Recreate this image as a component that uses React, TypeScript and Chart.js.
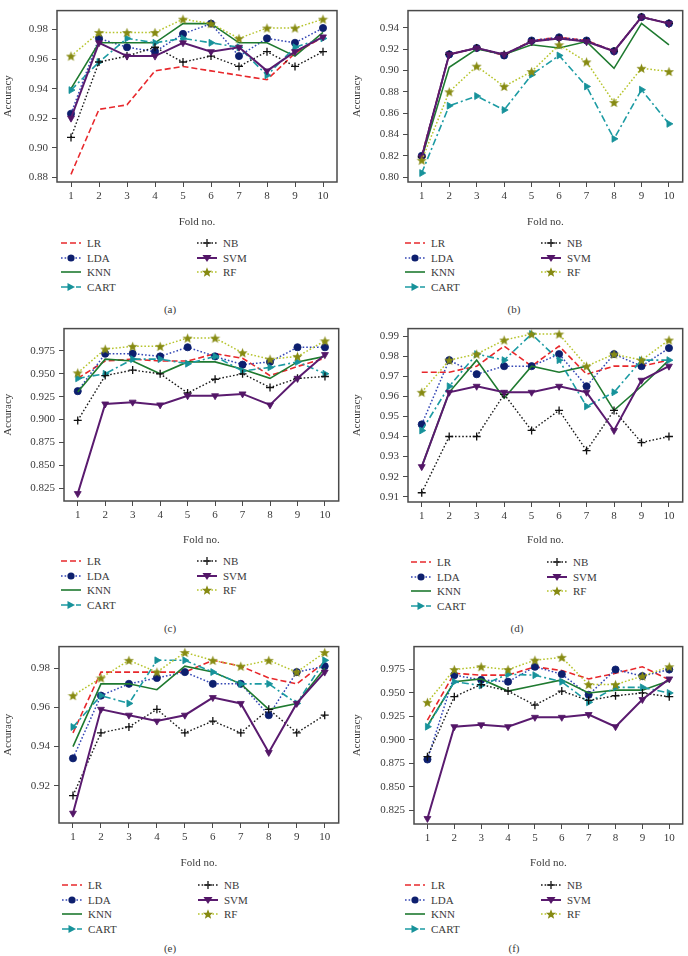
import React, { useEffect, useRef } from 'react';
import { Chart, registerables } from 'chart.js';

Chart.register(...registerables);

const FOLDS = ['1', '2', '3', '4', '5', '6', '7', '8', '9', '10'];
const NAMES = ['LR', 'LDA', 'KNN', 'CART', 'NB', 'SVM', 'RF'];

// (a)
const aLR = [0.882, 0.926, 0.929, 0.952, 0.955, 0.952, 0.949, 0.946, 0.964, 0.975];
const aLDA = [0.923, 0.974, 0.968, 0.965, 0.977, 0.984, 0.962, 0.974, 0.971, 0.981];
const aKNN = [0.94, 0.971, 0.971, 0.971, 0.984, 0.984, 0.971, 0.971, 0.962, 0.978];
const aCART = [0.939, 0.958, 0.974, 0.971, 0.974, 0.971, 0.968, 0.949, 0.968, 0.974];
const aNB = [0.907, 0.958, 0.962, 0.968, 0.958, 0.962, 0.955, 0.965, 0.955, 0.965];
const aSVM = [0.92, 0.971, 0.962, 0.962, 0.971, 0.965, 0.968, 0.952, 0.965, 0.975];
const aRF = [0.962, 0.978, 0.978, 0.978, 0.987, 0.984, 0.974, 0.981, 0.981, 0.987];

// (b)
const bLR = [0.82, 0.915, 0.921, 0.914, 0.928, 0.931, 0.928, 0.918, 0.95, 0.944];
const bLDA = [0.82, 0.915, 0.921, 0.914, 0.928, 0.931, 0.928, 0.918, 0.95, 0.944];
const bKNN = [0.818, 0.903, 0.92, 0.915, 0.924, 0.921, 0.927, 0.902, 0.944, 0.924];
const bCART = [0.804, 0.867, 0.876, 0.863, 0.896, 0.914, 0.885, 0.836, 0.882, 0.85];
const bNB = [0.819, 0.915, 0.921, 0.915, 0.927, 0.93, 0.927, 0.918, 0.95, 0.944];
const bSVM = [0.819, 0.915, 0.921, 0.915, 0.927, 0.93, 0.927, 0.918, 0.95, 0.944];
const bRF = [0.816, 0.88, 0.904, 0.885, 0.899, 0.924, 0.908, 0.87, 0.902, 0.899];

// (c)
const cLR = [0.945, 0.964, 0.966, 0.964, 0.964, 0.972, 0.967, 0.948, 0.958, 0.967];
const cLDA = [0.931, 0.972, 0.972, 0.969, 0.979, 0.969, 0.96, 0.963, 0.979, 0.979];
const cKNN = [0.93, 0.966, 0.964, 0.95, 0.963, 0.963, 0.955, 0.945, 0.963, 0.969];
const cCART = [0.945, 0.95, 0.966, 0.966, 0.961, 0.969, 0.953, 0.957, 0.963, 0.95];
const cNB = [0.899, 0.948, 0.954, 0.95, 0.929, 0.944, 0.95, 0.935, 0.945, 0.947];
const cSVM = [0.819, 0.917, 0.919, 0.916, 0.926, 0.926, 0.928, 0.916, 0.945, 0.971];
const cRF = [0.951, 0.977, 0.98, 0.98, 0.989, 0.989, 0.973, 0.966, 0.969, 0.986];

// (d)
const dLR = [0.972, 0.972, 0.975, 0.985, 0.975, 0.985, 0.971, 0.975, 0.975, 0.978];
const dLDA = [0.946, 0.978, 0.971, 0.975, 0.975, 0.981, 0.965, 0.981, 0.975, 0.984];
const dKNN = [0.925, 0.962, 0.978, 0.959, 0.975, 0.972, 0.975, 0.953, 0.965, 0.978];
const dCART = [0.943, 0.965, 0.981, 0.978, 0.991, 0.978, 0.955, 0.962, 0.978, 0.978];
const dNB = [0.912, 0.94, 0.94, 0.961, 0.943, 0.953, 0.933, 0.953, 0.937, 0.94];
const dSVM = [0.925, 0.962, 0.965, 0.962, 0.962, 0.965, 0.962, 0.943, 0.968, 0.975];
const dRF = [0.962, 0.978, 0.981, 0.988, 0.991, 0.991, 0.975, 0.981, 0.978, 0.988];

// (e)
const eLR = [0.947, 0.978, 0.978, 0.978, 0.978, 0.984, 0.981, 0.975, 0.972, 0.983];
const eLDA = [0.934, 0.966, 0.972, 0.975, 0.978, 0.972, 0.972, 0.956, 0.978, 0.981];
const eKNN = [0.94, 0.972, 0.972, 0.969, 0.981, 0.978, 0.972, 0.959, 0.962, 0.98];
const eCART = [0.95, 0.966, 0.962, 0.984, 0.984, 0.978, 0.972, 0.972, 0.962, 0.984];
const eNB = [0.915, 0.947, 0.95, 0.959, 0.947, 0.953, 0.947, 0.959, 0.947, 0.956];
const eSVM = [0.906, 0.959, 0.956, 0.953, 0.956, 0.965, 0.962, 0.937, 0.962, 0.978];
const eRF = [0.966, 0.975, 0.984, 0.978, 0.988, 0.984, 0.981, 0.984, 0.978, 0.988];

// (f)
const fLR = [0.921, 0.971, 0.969, 0.969, 0.978, 0.974, 0.965, 0.971, 0.978, 0.964];
const fLDA = [0.879, 0.969, 0.964, 0.962, 0.978, 0.97, 0.948, 0.975, 0.968, 0.975];
const fKNN = [0.915, 0.962, 0.965, 0.952, 0.958, 0.964, 0.95, 0.953, 0.953, 0.963];
const fCART = [0.914, 0.962, 0.958, 0.97, 0.969, 0.962, 0.94, 0.956, 0.956, 0.95];
const fNB = [0.882, 0.946, 0.959, 0.952, 0.937, 0.952, 0.942, 0.947, 0.95, 0.946];
const fSVM = [0.816, 0.914, 0.916, 0.914, 0.924, 0.924, 0.927, 0.914, 0.943, 0.965];
const fRF = [0.94, 0.975, 0.978, 0.975, 0.985, 0.988, 0.959, 0.959, 0.968, 0.978];

// y tick labels
const ticksA = [0.88, 0.9, 0.92, 0.94, 0.96, 0.98];
const ticksB = [0.8, 0.82, 0.84, 0.86, 0.88, 0.9, 0.92, 0.94];
const ticksC = [0.825, 0.85, 0.875, 0.9, 0.925, 0.95, 0.975];
const ticksD = [0.91, 0.92, 0.93, 0.94, 0.95, 0.96, 0.97, 0.98, 0.99];
const ticksE = [0.92, 0.94, 0.96, 0.98];
const ticksF = [0.825, 0.85, 0.875, 0.9, 0.925, 0.95, 0.975];

const FONT = "'Liberation Serif', 'DejaVu Serif', serif";
const TEXT = '#3a3a3a';
const AXIS = '#4a4a4a';

type Style = {
  color: string;
  dash: number[];
  width: number;
  marker: string;
  mColor: string;
  radius: number;
  rot: number;
};

const STYLES: Style[] = [
  { color: '#e8282c', dash: [6, 3], width: 1.6, marker: 'none', mColor: '#e8282c', radius: 0, rot: 0 },
  { color: '#3447b5', dash: [1.6, 2], width: 1.5, marker: 'circle', mColor: '#0d1f6e', radius: 3.6, rot: 0 },
  { color: '#1f7a30', dash: [], width: 1.6, marker: 'none', mColor: '#1f7a30', radius: 0, rot: 0 },
  { color: '#1c9ba3', dash: [7, 3, 2, 3], width: 1.6, marker: 'triangle', mColor: '#17929a', radius: 4, rot: 90 },
  { color: '#1a1a1a', dash: [1.6, 2], width: 1.4, marker: 'cross', mColor: '#111111', radius: 4, rot: 0 },
  { color: '#5a1b6f', dash: [], width: 2, marker: 'triangle', mColor: '#531667', radius: 4, rot: 180 },
  { color: '#b6c42c', dash: [1.6, 2], width: 1.5, marker: 'star', mColor: '#868a12', radius: 4.5, rot: 0 },
];

function starPoints(cx: number, cy: number, R: number, r: number): [number, number][] {
  const pts: [number, number][] = [];
  for (let i = 0; i < 10; i++) {
    const a = -Math.PI / 2 + (i * Math.PI) / 5;
    const rr = i % 2 === 0 ? R : r;
    pts.push([cx + rr * Math.cos(a), cy + rr * Math.sin(a)]);
  }
  return pts;
}

let starCanvas: HTMLCanvasElement | null = null;
function getStar(color: string): HTMLCanvasElement {
  if (starCanvas) return starCanvas;
  const c = document.createElement('canvas');
  c.width = 11;
  c.height = 11;
  const ctx = c.getContext('2d')!;
  const pts = starPoints(5.5, 6, 5.3, 2.3);
  ctx.beginPath();
  pts.forEach(([x, y], i) => (i === 0 ? ctx.moveTo(x, y) : ctx.lineTo(x, y)));
  ctx.closePath();
  ctx.fillStyle = color;
  ctx.fill();
  starCanvas = c;
  return c;
}

const boxPlugin = {
  id: 'frameBox',
  afterDraw(chart: any) {
    const { ctx, chartArea } = chart;
    ctx.save();
    ctx.strokeStyle = AXIS;
    ctx.lineWidth = 1.5;
    ctx.strokeRect(chartArea.left, chartArea.top, chartArea.right - chartArea.left, chartArea.bottom - chartArea.top);
    ctx.restore();
  },
};

type Box = { l: number; t: number; r: number; b: number };
type PanelProps = {
  x0: number;
  top: number;
  bottom: number;
  box: Box;
  yMin: number;
  yMax: number;
  yTicks: number[];
  dec: number;
  series: number[][];
  yTitleX: number;
  legendY: number;
  legendDx: number;
  captionX: number;
  captionY: number;
  caption: string;
};

function Marker({ s, cx, cy }: { s: Style; cx: number; cy: number }) {
  if (s.marker === 'circle') return <circle cx={cx} cy={cy} r={3.6} fill={s.mColor} />;
  if (s.marker === 'cross')
    return (
      <g stroke={s.mColor} strokeWidth={1.3}>
        <line x1={cx - 4} y1={cy} x2={cx + 4} y2={cy} />
        <line x1={cx} y1={cy - 4} x2={cx} y2={cy + 4} />
      </g>
    );
  if (s.marker === 'triangle' && s.rot === 90)
    return <polygon points={`${cx - 3.5},${cy - 4} ${cx + 4},${cy} ${cx - 3.5},${cy + 4}`} fill={s.mColor} />;
  if (s.marker === 'triangle')
    return <polygon points={`${cx - 4.5},${cy - 3} ${cx + 4.5},${cy - 3} ${cx},${cy + 4}`} fill={s.mColor} />;
  if (s.marker === 'star')
    return <polygon points={starPoints(cx, cy + 0.5, 5.3, 2.3).map((p) => p.join(',')).join(' ')} fill={s.mColor} />;
  return null;
}

function LegendItem({ idx, x, y, textX }: { idx: number; x: number; y: number; textX: number }) {
  const s = STYLES[idx];
  const w = 20;
  return (
    <>
      <svg width={w + 2} height={12} style={{ position: 'absolute', left: x - 1, top: y - 6, overflow: 'visible' }}>
        <line x1={1} y1={6} x2={w + 1} y2={6} stroke={s.color} strokeWidth={s.width} strokeDasharray={s.dash.length ? s.dash.join(' ') : undefined} />
        <Marker s={s} cx={w / 2 + 1} cy={6} />
      </svg>
      <div
        style={{
          position: 'absolute',
          left: textX,
          top: y - 7,
          height: 14,
          lineHeight: '14px',
          fontFamily: FONT,
          fontSize: 11,
          color: TEXT,
          whiteSpace: 'nowrap',
        }}
      >
        {NAMES[idx]}
      </div>
    </>
  );
}

function Panel(p: PanelProps) {
  const ref = useRef<HTMLCanvasElement>(null);
  const W = 344;
  const H = p.bottom - p.top;
  useEffect(() => {
    const star = getStar(STYLES[6].mColor);
    const n = NAMES.length;
    const chart = new Chart(ref.current!, {
      type: 'line',
      data: {
        labels: FOLDS,
        datasets: NAMES.map((name, i) => {
          const s = STYLES[i];
          return {
            label: name,
            data: p.series[i],
            borderColor: s.color,
            borderWidth: s.width,
            borderDash: s.dash,
            fill: false,
            tension: 0,
            pointStyle: (s.marker === 'star' ? star : s.marker === 'none' ? 'circle' : s.marker) as any,
            pointRadius: s.marker === 'none' ? 0 : s.radius,
            pointHoverRadius: s.marker === 'none' ? 0 : s.radius,
            pointBackgroundColor: s.mColor,
            pointBorderColor: s.mColor,
            pointBorderWidth: s.marker === 'cross' ? 1.3 : 0.8,
            pointRotation: s.rot,
            order: n - 1 - i,
          } as any;
        }),
      },
      options: {
        responsive: false,
        animation: false,
        devicePixelRatio: 1,
        events: [],
        layout: { padding: { left: 0, top: p.box.t - p.top, right: p.x0 + W - p.box.r, bottom: 0 } },
        plugins: { legend: { display: false }, tooltip: { enabled: false } },
        scales: {
          x: {
            type: 'category',
            offset: true,
            border: { display: false },
            grid: { display: true, drawOnChartArea: false, drawTicks: true, tickLength: 5, color: AXIS, lineWidth: 1 },
            ticks: { font: { family: FONT, size: 11 }, color: TEXT, padding: 3, maxRotation: 0, autoSkip: false },
            title: { display: true, text: 'Fold no.', font: { family: FONT, size: 11 }, color: TEXT, padding: { top: 0, bottom: 2.4 } },
            afterFit: (s: any) => {
              s.height = p.bottom - p.box.b;
            },
          },
          y: {
            type: 'linear',
            min: p.yMin,
            max: p.yMax,
            border: { display: false },
            grid: { display: true, drawOnChartArea: false, drawTicks: true, tickLength: 5, color: AXIS, lineWidth: 1 },
            afterBuildTicks: (s: any) => {
              s.ticks = p.yTicks.map((v) => ({ value: v }));
            },
            ticks: {
              font: { family: FONT, size: 11 },
              color: TEXT,
              padding: 4,
              callback: (v: any) => Number(v).toFixed(p.dec),
            },
            title: { display: true, text: 'Accuracy', font: { family: FONT, size: 11 }, color: TEXT, padding: { top: p.yTitleX - 6.6, bottom: 0 } },
            afterFit: (s: any) => {
              s.width = p.box.l - p.x0;
            },
          },
        },
      } as any,
      plugins: [boxPlugin],
    });
    return () => chart.destroy();
  }, []);

  const rowH = 14.7;
  const c1 = p.x0 + 61 + p.legendDx;
  const t1 = p.x0 + 87 + p.legendDx;
  const c2 = p.x0 + 197 + p.legendDx;
  const t2 = p.x0 + 223 + p.legendDx;
  return (
    <>
      <canvas ref={ref} width={W} height={H} style={{ position: 'absolute', left: p.x0, top: p.top, width: W, height: H }} />
      {[0, 1, 2, 3].map((i, k) => (
        <LegendItem key={'l' + i} idx={i} x={c1} y={p.legendY + k * rowH} textX={t1} />
      ))}
      {[4, 5, 6].map((i, k) => (
        <LegendItem key={'r' + i} idx={i} x={c2} y={p.legendY + k * rowH} textX={t2} />
      ))}
      <div
        style={{
          position: 'absolute',
          left: p.captionX - 30,
          width: 60,
          top: p.captionY - 8,
          height: 16,
          lineHeight: '16px',
          textAlign: 'center',
          fontFamily: FONT,
          fontSize: 11,
          color: TEXT,
        }}
      >
        {p.caption}
      </div>
    </>
  );
}

export default function App() {
  return (
    <div style={{ position: 'absolute', left: 0, top: 0, width: 688, height: 956, overflow: 'hidden', background: '#ffffff' }}>
      <Panel
        x0={0} top={0} bottom={231} box={{ l: 57, t: 1, r: 337, b: 182 }}
        yMin={0.8768} yMax={0.9928} yTicks={ticksA} dec={2}
        series={[aLR, aLDA, aKNN, aCART, aNB, aSVM, aRF]}
        yTitleX={8} legendY={243} legendDx={0} captionX={170} captionY={309} caption="(a)"
      />
      <Panel
        x0={344} top={0} bottom={231} box={{ l: 408, t: 1, r: 687, b: 182 }}
        yMin={0.7956} yMax={0.956} yTicks={ticksB} dec={2}
        series={[bLR, bLDA, bKNN, bCART, bNB, bSVM, bRF]}
        yTitleX={13} legendY={243} legendDx={0} captionX={514} captionY={309} caption="(b)"
      />
      <Panel
        x0={0} top={318} bottom={549} box={{ l: 64, t: 323, r: 339, b: 501 }}
        yMin={0.8109} yMax={0.9994} yTicks={ticksC} dec={3}
        series={[cLR, cLDA, cKNN, cCART, cNB, cSVM, cRF]}
        yTitleX={8} legendY={561} legendDx={0} captionX={170} captionY={628} caption="(c)"
      />
      <Panel
        x0={344} top={318} bottom={549} box={{ l: 408, t: 323, r: 687, b: 502 }}
        yMin={0.9074} yMax={0.9937} yTicks={ticksD} dec={2}
        series={[dLR, dLDA, dKNN, dCART, dNB, dSVM, dRF]}
        yTitleX={13} legendY={562} legendDx={6} captionX={517} captionY={628} caption="(d)"
      />
      <Panel
        x0={0} top={636} bottom={872} box={{ l: 59, t: 643, r: 339, b: 823 }}
        yMin={0.901} yMax={0.991} yTicks={ticksE} dec={2}
        series={[eLR, eLDA, eKNN, eCART, eNB, eSVM, eRF]}
        yTitleX={8} legendY={885} legendDx={1} captionX={170} captionY={948} caption="(e)"
      />
      <Panel
        x0={344} top={636} bottom={872} box={{ l: 414, t: 646, r: 687, b: 824 }}
        yMin={0.8101} yMax={0.9995} yTicks={ticksF} dec={3}
        series={[fLR, fLDA, fKNN, fCART, fNB, fSVM, fRF]}
        yTitleX={13} legendY={885} legendDx={0} captionX={514} captionY={948} caption="(f)"
      />
    </div>
  );
}
